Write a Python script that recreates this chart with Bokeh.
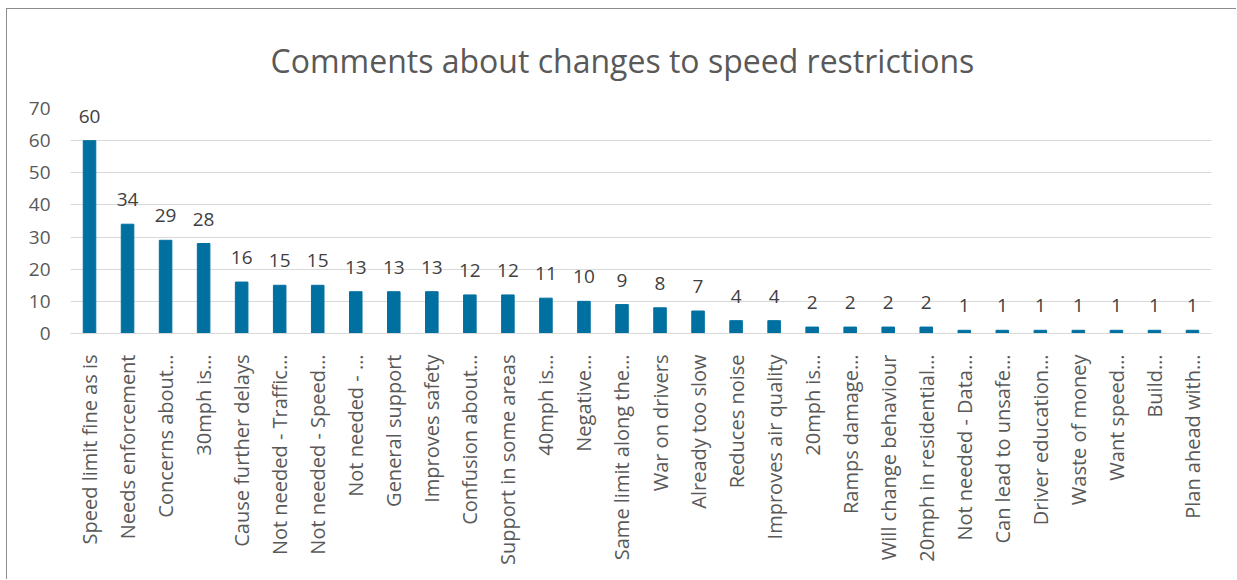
from bokeh.plotting import figure
from bokeh.models import ColumnDataSource, LabelSet
from bokeh.core.properties import value
from bokeh.embed import file_html
from bokeh.resources import INLINE
import math

categories = [
    "Speed limit fine as is", "Needs enforcement", "Concerns about…", "30mph is…",
    "Cause further delays", "Not needed - Traffic…", "Not needed - Speed…", "Not needed - …",
    "General support", "Improves safety", "Confusion about…", "Support in some areas",
    "40mph is…", "Negative…", "Same limit along the…", "War on drivers",
    "Already too slow", "Reduces noise", "Improves air quality", "20mph is…",
    "Ramps damage…", "Will change behaviour", "20mph in residential…", "Not needed - Data…",
    "Can lead to unsafe…", "Driver education…", "Waste of money", "Want speed…",
    "Build…", "Plan ahead with…",
]
counts = [60, 34, 29, 28, 16, 15, 15, 13, 13, 13, 12, 12, 11, 10, 9, 8, 7, 4, 4, 2,
          2, 2, 2, 1, 1, 1, 1, 1, 1, 1]
y_ticks = [0, 10, 20, 30, 40, 50, 60, 70]

src = ColumnDataSource(dict(cat=categories, val=counts, lab=[str(v) for v in counts]))

p = figure(x_range=categories, y_range=(0, 70), width=1230, height=571,
           output_backend="svg", toolbar_location=None,
           min_border_left=63, min_border_right=26, min_border_top=98, min_border_bottom=247,
           title="Comments about changes to speed restrictions")
p.styles = {"margin-left": "6px", "margin-top": "8px",
            "border-left": "1px solid #8c8c8c", "border-top": "1px solid #8c8c8c"}

p.vbar(x="cat", top="val", width=0.33, source=src, color="#0070a0")
p.add_layout(LabelSet(x="cat", y="val", text="lab", source=src, y_offset=18,
                      text_align="center", text_baseline="alphabetic",
                      text_font=value("Open Sans"), text_font_size="19px",
                      text_color="#404040"))

p.title.align = "left"
p.title.offset = 200
p.title.standoff = 54
p.title.text_font = "Open Sans"
p.title.text_font_size = "32px"
p.title.text_font_style = "normal"
p.title.text_color = "#595959"

p.outline_line_color = None
p.xgrid.grid_line_color = None
p.ygrid.grid_line_color = "#d9d9d9"
p.yaxis.ticker = y_ticks
p.yaxis.axis_line_color = None
p.yaxis.major_tick_line_color = None
p.yaxis.minor_tick_line_color = None
p.yaxis.major_label_text_font = "Open Sans"
p.yaxis.major_label_text_font_size = "19px"
p.yaxis.major_label_text_color = "#595959"
p.yaxis.major_label_standoff = 14

p.xaxis.axis_line_color = "#d9d9d9"
p.xaxis.major_tick_line_color = None
p.xaxis.minor_tick_line_color = None
p.xaxis.major_label_orientation = math.pi / 2
p.xaxis.major_label_text_font = "Open Sans"
p.xaxis.major_label_text_font_size = "20px"
p.xaxis.major_label_text_color = "#595959"
p.xaxis.major_label_standoff = 15
p.x_range.range_padding = 0

open("out.html", "w").write(file_html(p, INLINE))
